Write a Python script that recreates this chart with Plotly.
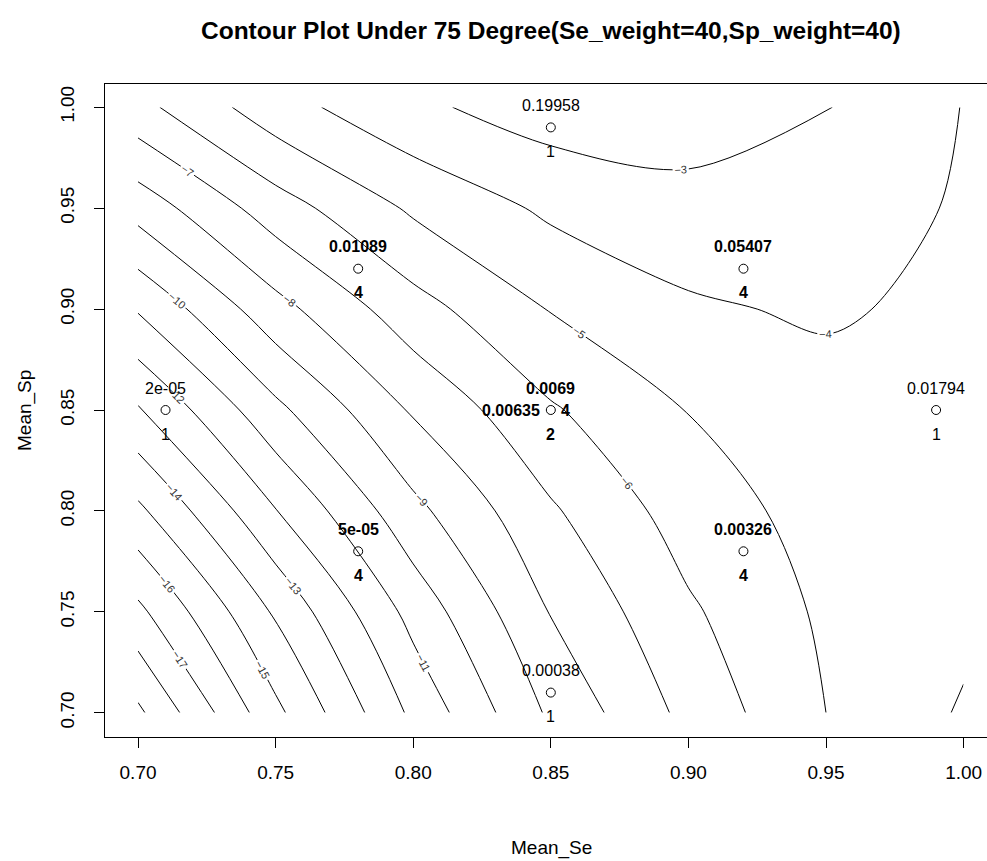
import plotly.graph_objects as go

# ---- data ----
se_grid = [0.70, 0.75, 0.80, 0.85, 0.90, 0.95, 1.00]
sp_grid = [0.70, 0.75, 0.80, 0.85, 0.90, 0.95, 1.00]
# z rows: one row per sp value (bottom -> top), columns follow se_grid
z_sp070 = [-19.2, -15.25, -11.78, -8.82, -6.71, -5.00, -3.90]
z_sp075 = [-17.24, -13.86, -10.65, -7.95, -6.15, -4.82, -4.25]
z_sp080 = [-15.22, -12.04, -9.28, -7.13, -5.52, -4.60, -4.40]
z_sp085 = [-13.10, -10.25, -7.88, -6.11, -4.97, -4.45, -4.35]
z_sp090 = [-10.91, -8.35, -6.39, -4.95, -4.15, -3.85, -4.30]
z_sp095 = [-8.60, -6.47, -4.84, -3.81, -3.33, -3.44, -4.12]
z_sp100 = [-6.30, -4.40, -3.20, -2.50, -2.48, -2.95, -4.03]
z_rows = [z_sp070, z_sp075, z_sp080, z_sp085, z_sp090, z_sp095, z_sp100]

level_start, level_end, level_step = -19, -3, 1

pt_se = [0.85, 0.78, 0.92, 0.71, 0.85, 0.99, 0.78, 0.92, 0.85]
pt_sp = [0.99, 0.92, 0.92, 0.85, 0.85, 0.85, 0.78, 0.78, 0.71]
pt_top = ["0.19958", "0.01089", "0.05407", "2e-05", "0.0069", "0.01794", "5e-05", "0.00326", "0.00038"]
pt_bottom = ["1", "4", "4", "1", "2", "1", "4", "4", "1"]
pt_bold = [False, True, True, False, True, False, True, True, False]

side_se = [0.85]
side_sp = [0.85]
side_left = ["0.00635"]
side_right = ["4"]

x_ticks = [0.70, 0.75, 0.80, 0.85, 0.90, 0.95, 1.00]
x_ticktext = ["0.70", "0.75", "0.80", "0.85", "0.90", "0.95", "1.00"]
y_ticks = [0.70, 0.75, 0.80, 0.85, 0.90, 0.95, 1.00]
y_ticktext = ["0.70", "0.75", "0.80", "0.85", "0.90", "0.95", "1.00"]

title_text = "Contour Plot Under 75 Degree(Se_weight=40,Sp_weight=40)"
x_title = "Mean_Se"
y_title = "Mean_Sp"

FONT = "Liberation Sans, Arial, sans-serif"

# plot-area geometry in pixels (for placing free texts in paper units)
L, R, T, B = 105, 987, 84, 737
def px_to_paper(px, py):
    return (px - L) / (R - L), (B - py) / (B - T)

fig = go.Figure()
fig.add_trace(go.Contour(
    x=se_grid, y=sp_grid, z=z_rows,
    contours=dict(start=level_start, end=level_end, size=level_step,
                  coloring="lines", showlabels=True,
                  labelfont=dict(size=11, color="#333333", family=FONT)),
    line=dict(width=1, smoothing=0.9),
    colorscale=[[0, "black"], [1, "black"]],
    showscale=False, hoverinfo="skip",
))

fig.add_trace(go.Scatter(
    x=pt_se, y=pt_sp, mode="markers",
    marker=dict(symbol="circle-open", size=9, color="black", line=dict(width=1)),
    hoverinfo="skip", showlegend=False,
))

annotations = []
for sx, sy, top, bot, bold in zip(pt_se, pt_sp, pt_top, pt_bottom, pt_bold):
    t = f"<b>{top}</b>" if bold else top
    b = f"<b>{bot}</b>" if bold else bot
    annotations.append(dict(x=sx, y=sy, xref="x", yref="y", text=t, showarrow=False,
                            yshift=22, font=dict(size=16, color="black", family=FONT)))
    annotations.append(dict(x=sx, y=sy, xref="x", yref="y", text=b, showarrow=False,
                            yshift=-24, font=dict(size=16, color="black", family=FONT)))
for sx, sy, lt, rt in zip(side_se, side_sp, side_left, side_right):
    annotations.append(dict(x=sx, y=sy, xref="x", yref="y", text=f"<b>{lt}</b>", showarrow=False,
                            xanchor="right", xshift=-9, font=dict(size=16, color="black", family=FONT)))
    annotations.append(dict(x=sx, y=sy, xref="x", yref="y", text=f"<b>{rt}</b>", showarrow=False,
                            xanchor="left", xshift=8, font=dict(size=16, color="black", family=FONT)))

tx, ty = px_to_paper(551, 30)
annotations.append(dict(text=f"<b>{title_text}</b>", x=tx, y=ty,
                        xref="paper", yref="paper", showarrow=False,
                        xanchor="center", yanchor="middle",
                        font=dict(size=24.5, color="black", family=FONT)))
ax, ay = px_to_paper(551, 848)
annotations.append(dict(text=x_title, x=ax, y=ay, xref="paper", yref="paper",
                        showarrow=False, xanchor="center", yanchor="middle",
                        font=dict(size=19, color="black", family=FONT)))
bx, by = px_to_paper(25, 411)
annotations.append(dict(text=y_title, x=bx, y=by, xref="paper", yref="paper",
                        showarrow=False, xanchor="center", yanchor="middle", textangle=-90,
                        font=dict(size=19, color="black", family=FONT)))

fig.update_layout(
    width=987, height=861,
    margin=dict(l=L, r=987 - R, t=T, b=861 - B, pad=0),
    paper_bgcolor="white", plot_bgcolor="white",
    showlegend=False,
    annotations=annotations,
    font=dict(family=FONT, color="black"),
)
fig.update_xaxes(
    range=[0.688, 1.0085], tickvals=x_ticks, ticktext=x_ticktext,
    ticks="outside", ticklen=10, tickwidth=1, tickcolor="black",
    showline=True, linecolor="black", linewidth=1, mirror=True,
    showgrid=False, zeroline=False, tickfont=dict(size=19, color="black"),
    ticklabelstandoff=8,
)
fig.update_yaxes(
    range=[0.688, 1.0115], tickvals=y_ticks, ticktext=y_ticktext,
    ticks="outside", ticklen=10, tickwidth=1, tickcolor="black",
    showline=True, linecolor="black", linewidth=1, mirror=False,
    showgrid=False, zeroline=False, tickfont=dict(size=19, color="black"),
    tickangle=-90, ticklabelstandoff=12,
)

fig.write_html("out.html", config={"displayModeBar": False},
               post_script="document.body.style.margin='0';")
